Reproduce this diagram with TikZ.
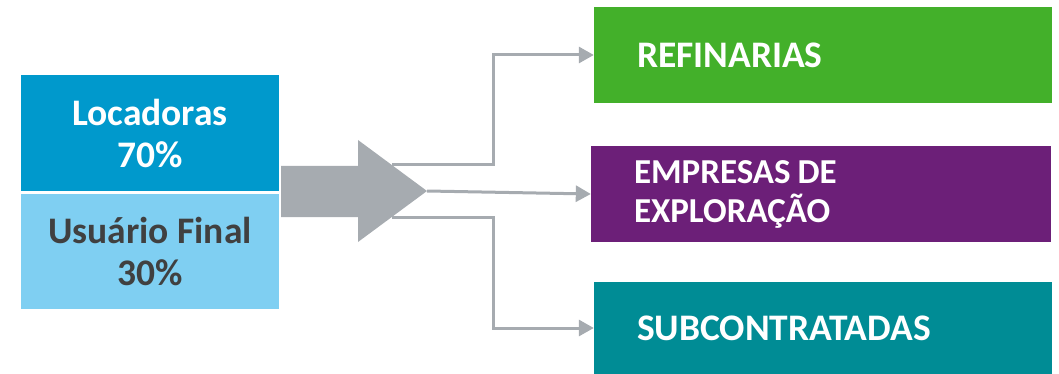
\documentclass[tikz,border=0pt]{standalone}
\usepackage{fontspec}
\setmainfont{Carlito}
\usepackage{xcolor}
\usepackage{tikz}
\usetikzlibrary{arrows.meta}
\definecolor{locblue}{RGB}{0,153,204}
\definecolor{usublue}{RGB}{127,207,242}
\definecolor{usutext}{RGB}{64,64,64}
\definecolor{refgreen}{RGB}{67,176,42}
\definecolor{emppurple}{RGB}{108,31,120}
\definecolor{subteal}{RGB}{0,140,149}
\definecolor{flowgray}{RGB}{166,171,176}

\begin{document}
\begin{tikzpicture}[x=1pt,y=-1pt]
\tikzstyle{every node}+=[inner sep=0pt]
\tikzstyle{share}=[rectangle, minimum width=258pt, align=center, font=\fontsize{37.5}{42}\selectfont\bfseries]
\tikzstyle{client}=[rectangle, minimum width=458pt, minimum height=96pt, inner xsep=43pt, text width=372pt, align=left, text=white, font=\fontsize{37.5}{39}\selectfont\bfseries]
\tikzstyle{flow}=[draw=flowgray, line width=3pt, -{Triangle[length=15pt,width=16pt]}]
\useasboundingbox (0,0) rectangle (1059,374);
\node[share, fill=locblue, text=white, minimum height=116pt] (loc) at (150,133) {Locadoras\\70\%};
\node[share, fill=usublue, text=usutext, minimum height=115pt] (usu) at (150,251.5) {Usuário Final\\30\%};
\node[client, fill=refgreen] (ref) at (823,55) {REFINARIAS};
\node[client, fill=emppurple, minimum width=460pt, text width=374pt, font=\fontsize{35}{39}\selectfont\bfseries] (emp) at (821,194) {EMPRESAS\hspace{0.2em}DE\\EXPLORAÇÃO};
\node[client, fill=subteal, minimum height=92pt] (sub) at (823,328) {SUBCONTRATADAS};
\fill[flowgray] (281,166) -- (358,166) -- (358,140) -- (427,191) -- (358,242) -- (358,217) -- (281,217) -- cycle;
\coordinate (tip) at (427,191);
\coordinate (upper) at (392,165);
\coordinate (lower) at (392,217);
\draw[flow] (upper) -- ++(101,0) |- (ref.west);
\draw[flow] (tip) -- (emp.west);
\draw[flow] (lower) -- ++(101,0) |- (sub.west);
\end{tikzpicture}
\end{document}
